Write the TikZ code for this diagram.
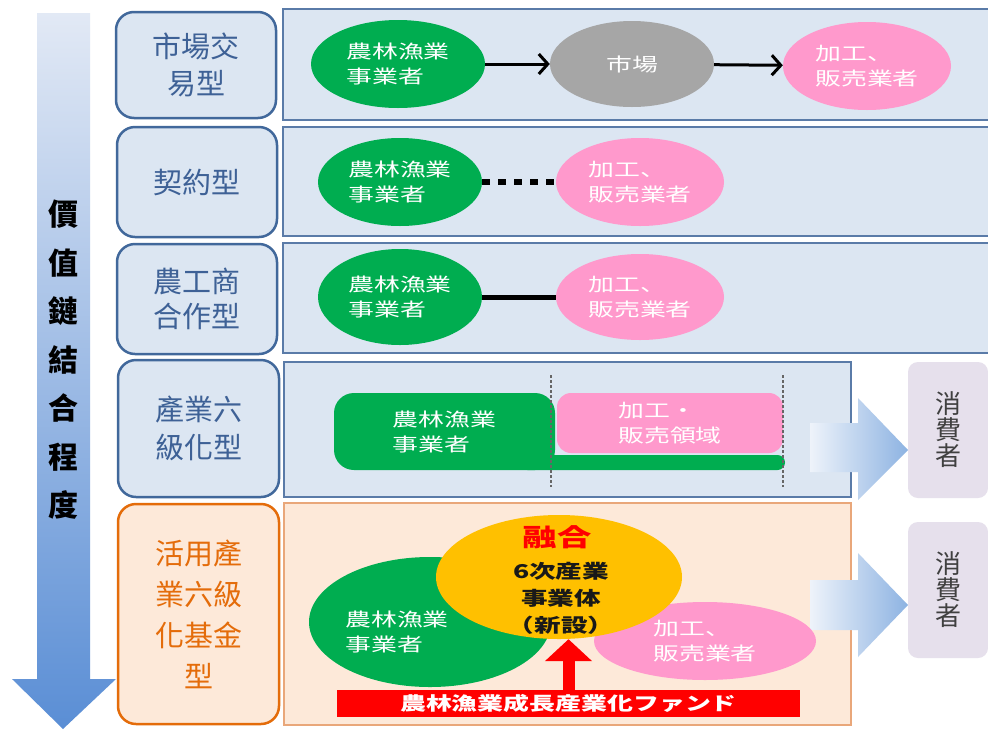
\documentclass[tikz,border=0pt]{standalone}
\usepackage{fontspec}
\usetikzlibrary{arrows.meta,shapes.geometric}
\newfontfamily\tcfont{Noto Sans CJK TC}
\newfontfamily\jpfont{Noto Sans CJK JP}[FakeStretch=1.4]
\newfontfamily\jpnfont{Noto Sans CJK JP}
\definecolor{lblfill}{HTML}{DCE6F2}
\definecolor{lbldraw}{HTML}{41689B}
\definecolor{lbltext}{HTML}{3E6196}
\definecolor{ofill}{HTML}{FDE9D9}
\definecolor{odraw}{HTML}{E46C0A}
\definecolor{pdraw}{HTML}{5A7BA8}
\definecolor{podraw}{HTML}{E9A77A}
\definecolor{ggreen}{HTML}{00AD50}
\definecolor{gpink}{HTML}{FF99CC}
\definecolor{ggray}{HTML}{A6A6A6}
\definecolor{gyellow}{HTML}{FFC000}
\definecolor{cfill}{HTML}{E6E0EC}
\definecolor{arrtop}{HTML}{E2E9F5}
\definecolor{arrbot}{HTML}{5A8ED5}
\definecolor{barrow}{HTML}{8DB3E2}
\definecolor{barrowl}{HTML}{EEF3FA}
\begin{document}
\begin{tikzpicture}[x=1pt,y=-1pt,
  lbl/.style={draw=lbldraw, line width=2.5pt, fill=lblfill, rounded corners=18pt, text=lbltext, align=center, inner sep=0pt, font=\tcfont\fontsize{29}{37}\selectfont},
  lblo/.style={lbl, draw=odraw, fill=ofill, text=odraw, font=\tcfont\fontsize{29}{41}\selectfont},
  panel/.style={draw=pdraw, line width=2pt, fill=lblfill},
  panelo/.style={draw=podraw, line width=2pt, fill=ofill},
  ell/.style={ellipse, inner sep=0pt, align=left, text=white, font=\jpfont\fontsize{18.5}{24.5}\selectfont},
  gell/.style={ell, fill=ggreen},
  pell/.style={ell, fill=gpink},
  rbox/.style={inner sep=0pt, align=left, text=white, font=\jpfont\fontsize{18.5}{25}\selectfont},
  cons/.style={fill=cfill, rounded corners=10pt, inner sep=0pt, align=center, text=black!75, minimum width=80pt, minimum height=136pt, font=\jpnfont\fontsize{26}{26}\selectfont},
  flowarr/.style={line width=3pt, -{Straight Barb[length=9pt,width=20pt]}},
  barr/.style={left color=barrowl, right color=barrow},
  guide/.style={draw=black!60, line width=1.2pt, dash pattern=on 3pt off 2pt}
]
\useasboundingbox (0,0) rectangle (988,729);
\fill[white] (0,0) rectangle (988,729);

% left gradient arrow
\shade[top color=arrtop, bottom color=arrbot]
  (37,13) -- (90,13) -- (90,679) -- (116,679) -- (63,729) -- (12,679) -- (37,679) -- cycle;
\node[align=center, inner sep=0pt, font=\tcfont\bfseries\fontsize{30}{48.5}\selectfont] (deg) at (63,360)
  {價\\值\\鏈\\結\\合\\程\\度};

% label boxes
\node[lbl, minimum width=160pt, minimum height=106pt] (l1) at (196,65) {市場交\\易型};
\node[lbl, minimum width=160pt, minimum height=110pt] (l2) at (197,182) {契約型};
\node[lbl, minimum width=160pt, minimum height=110pt, font=\tcfont\fontsize{29}{35}\selectfont] (l3) at (197,299) {農工商\\合作型};
\node[lbl, minimum width=161pt, minimum height=137pt, font=\tcfont\fontsize{29}{38}\selectfont] (l4) at (198.5,428.5) {產業六\\級化型};
\node[lblo, minimum width=161pt, minimum height=220pt] (l5) at (198.5,614) {活用產\\業六級\\化基金\\型};

% panels
\draw[panel] (283,9) rectangle (995,120);
\draw[panel] (283,127) rectangle (995,236);
\draw[panel] (283,243) rectangle (995,353);
\draw[panel] (284,362) rectangle (851,497);
\draw[panelo] (284,503) rectangle (851,725);

% row 1
\node[gell, minimum width=174pt, minimum height=88pt] (g1) at (398,64) {農林漁業\\事業者};
\node[ell, fill=ggray, align=center, minimum width=164pt, minimum height=86pt] (m1) at (632,64) {市場};
\node[pell, minimum width=168pt, minimum height=88pt] (p1) at (867,66) {加工、\\販売業者};
\draw[flowarr] (g1) -- (m1);
\draw[flowarr] (m1) -- (p1);

% row 2
\node[gell, minimum width=164pt, minimum height=88pt] (g2) at (400,182) {農林漁業\\事業者};
\node[pell, minimum width=168pt, minimum height=88pt] (p2) at (640,182) {加工、\\販売業者};
\draw[line width=6pt, dash pattern=on 8pt off 8pt] (g2) -- (p2);

% row 3
\node[gell, minimum width=164pt, minimum height=96pt] (g3) at (400,297) {農林漁業\\事業者};
\node[pell, minimum width=168pt, minimum height=86pt] (p3) at (640,297) {加工、\\販売業者};
\draw[line width=5pt] (g3) -- (p3);

% row 4
\fill[ggreen, rounded corners=7.5pt] (520,455) rectangle (785,470);
\node[rbox, fill=ggreen, rounded corners=20pt, minimum width=221pt, minimum height=77pt] (g4) at (444.5,431.5) {農林漁業\\事業者};
\node[rbox, fill=gpink, rounded corners=14pt, minimum width=226pt, minimum height=60pt] (p4) at (670,423) {加工・\\販売領域};
\draw[guide] (551,375) -- (551,487);
\draw[guide] (783,375) -- (783,487);

% block arrows
\shade[barr] (810,423) -- (858,423) -- (858,398) -- (908,450) -- (858,500) -- (858,472) -- (810,472) -- cycle;
\shade[barr] (810,580) -- (858,580) -- (858,553) -- (908,605) -- (858,657) -- (858,630) -- (810,630) -- cycle;

% consumers
\node[cons] (c1) at (948,430) {消\\費\\者};
\node[cons] (c2) at (948,590) {消\\費\\者};

% row 5
\node[ellipse, fill=ggreen, minimum width=242pt, minimum height=130pt] (g5) at (430,622) {};
\node[pell, align=left, minimum width=222pt, minimum height=78pt] (p5) at (705,641) {加工、\\販売業者};
\node[ellipse, fill=gyellow, minimum width=246pt, minimum height=124pt] (y5) at (559,577) {};
\node[rbox] (g5t) at (397,632) {農林漁業\\事業者};
\node[inner sep=0pt, text={rgb,255:red,255;green,0;blue,0}, font=\jpfont\bfseries\fontsize{24.5}{24.5}\selectfont] (fuse) at (557,537) {融合};
\node[inner sep=0pt, align=center, text=black!90, font=\jpfont\bfseries\fontsize{19}{27}\selectfont] (ent) at (561,598) {6次産業\\事業体\\（新設）};
\node[fill={rgb,255:red,255;green,0;blue,0}, minimum width=463pt, minimum height=27pt, inner sep=0pt, text=white, font=\jpfont\bfseries\fontsize{18.5}{18.5}\selectfont] (fund) at (568.5,703.5) {農林漁業成長産業化ファンド};
\draw[draw={rgb,255:red,255;green,0;blue,0}, line width=12pt, -{Triangle[width=46pt,length=22pt]}] (fund.north) -- (fund.north |- y5.south);
\end{tikzpicture}
\end{document}
